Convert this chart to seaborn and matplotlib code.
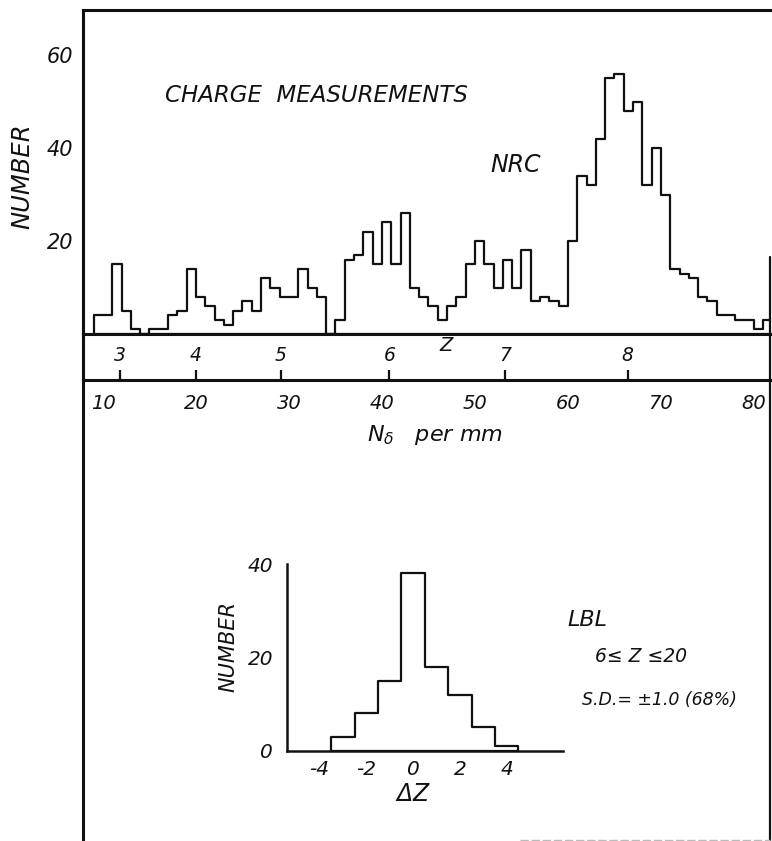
import numpy as np
import pandas as pd
import matplotlib
matplotlib.use("Agg")
import matplotlib.pyplot as plt
import seaborn as sns
from matplotlib.lines import Line2D

# ---------------- data ----------------
# NRC charge measurement histogram: counts per 1-unit bin of N_delta per mm
nd_bin_start = 9          # left edge of first bin
nd_bin_width = 1
nrc_counts = [4, 4, 15, 5, 1, 0, 1, 1, 4, 5,
              14, 8, 6, 3, 2, 5, 7, 5, 12, 10,
              8, 8, 14, 10, 8, 0, 3, 16, 17, 22,
              15, 24, 15, 26, 10, 8, 6, 3, 6, 8,
              15, 20, 15, 10, 16, 10, 18, 7, 8, 7,
              6, 20, 34, 32, 42, 55, 56, 48, 50, 32,
              40, 30, 14, 13, 12, 8, 7, 4, 4, 3,
              3, 1, 3]
nd_ticks = [10, 20, 30, 40, 50, 60, 70, 80]
count_ticks = [20, 40, 60]

# Z scale against N_delta per mm
z_labels = [3, 4, 5, 6, 7, 8]
z_positions = [11.8, 20.0, 29.1, 40.8, 53.2, 66.4]

# LBL inset: Delta Z distribution
dz_values = [-3, -2, -1, 0, 1, 2, 3, 4]
lbl_counts = [3, 8, 15, 38, 18, 12, 5, 1]
dz_ticks = [-4, -2, 0, 2, 4]
lbl_count_ticks = [0, 20, 40]

# ---------------- style ----------------
sns.set_theme(style="white")
plt.rcParams["font.family"] = ["DejaVu Sans"]
plt.rcParams["font.style"] = "italic"
plt.rcParams["mathtext.fontset"] = "dejavusans"
plt.rcParams["mathtext.default"] = "it"

W, H = 772, 841
fig = plt.figure(figsize=(W / 100, H / 100), dpi=100)
fig.patch.set_facecolor("white")


def fx(px):
    return px / W


def fy(py):
    return 1 - py / H


INK = "#111111"
SPINE_LW = 2.2
HIST_LW = 1.6

# ---------------- main histogram ----------------
nd_centers = [nd_bin_start + nd_bin_width * (i + 0.5) for i in range(len(nrc_counts))]
df_nrc = pd.DataFrame({"nd": nd_centers, "count": nrc_counts})

ax = fig.add_axes([fx(83), fy(334), fx(771) - fx(83), fy(10) - fy(334)])
sns.histplot(data=df_nrc, x="nd", weights="count", binwidth=nd_bin_width,
             binrange=(nd_bin_start, nd_bin_start + nd_bin_width * len(nrc_counts)),
             element="step", fill=True, color=INK, facecolor="none", edgecolor=INK,
             linewidth=HIST_LW, ax=ax)
ax.set_xlim(7.85, 81.83)
ax.set_ylim(0, 69.7)
ax.set_xlabel("")
ax.set_ylabel("")
ax.set_xticks([])
ax.set_yticks(count_ticks)
ax.set_yticklabels([str(v) for v in count_ticks], fontsize=15, style="italic")
ax.tick_params(axis="y", direction="out", length=6, width=1.8, pad=1, colors=INK)
for s in ["right", "bottom"]:
    ax.spines[s].set_visible(False)
for s in ["left", "top"]:
    ax.spines[s].set_linewidth(SPINE_LW)
    ax.spines[s].set_color(INK)
ax.patch.set_alpha(0)

# ---------------- Z strip / N_delta axis ----------------
sx = fig.add_axes([fx(83), fy(380), fx(771) - fx(83), fy(334) - fy(380)])
sx.set_xlim(7.85, 81.83)
sx.set_ylim(0, 1)
sx.set_yticks([])
sx.set_xticks(nd_ticks)
sx.set_xticklabels([str(v) for v in nd_ticks], fontsize=14, style="italic")
sx.tick_params(axis="x", direction="out", length=7, width=1.6, pad=3, colors=INK)
for s in ["top", "bottom", "left"]:
    sx.spines[s].set_linewidth(SPINE_LW)
    sx.spines[s].set_color(INK)
sx.spines["right"].set_visible(False)
sx.vlines(z_positions, 0, 0.22, color=INK, linewidth=1.6)
for zl, zp in zip(z_labels, z_positions):
    sx.text(zp, 0.54, str(zl), ha="center", va="center", fontsize=13.5, style="italic", color=INK)
sx.text(46.9, 0.74, "Z", ha="center", va="center", fontsize=14, style="italic", color=INK)
sx.patch.set_alpha(0)

fig.text(fx(435), fy(435), r"$N_{\delta}$   per mm", ha="center", va="center",
         fontsize=16, style="italic", color=INK)

# ---------------- text in main panel ----------------
fig.text(fx(22), fy(176), "NUMBER", rotation=90, ha="center", va="center",
         fontsize=17.5, style="italic", color=INK)
fig.text(fx(165), fy(95), "CHARGE  MEASUREMENTS", ha="left", va="center",
         fontsize=16.5, style="italic", color=INK)
fig.text(fx(490), fy(165), "NRC", ha="left", va="center",
         fontsize=17, style="italic", color=INK)

# ---------------- frame lines ----------------
fig.add_artist(Line2D([fx(83), fx(83)], [fy(10), 0], color=INK, linewidth=SPINE_LW))
fig.add_artist(Line2D([fx(770), fx(770)], [fy(257), 0], color=INK, linewidth=1.6))
fig.add_artist(Line2D([fx(520), fx(770)], [fy(839.5), fy(839.5)], color="#bbbbbb",
                      linewidth=1.0, linestyle=(0, (6, 2))))

# ---------------- LBL inset ----------------
df_lbl = pd.DataFrame({"dz": dz_values, "count": lbl_counts})
ix = fig.add_axes([fx(287), fy(750.7), fx(563) - fx(287), fy(564) - fy(750.7)])
sns.histplot(data=df_lbl, x="dz", weights="count", discrete=True,
             element="step", fill=True, color=INK, facecolor="none", edgecolor=INK,
             linewidth=HIST_LW, ax=ix)
ix.set_xlim(-5.39, 6.41)
ix.set_ylim(0, 40)
ix.set_xlabel("")
ix.set_ylabel("")
ix.set_xticks(dz_ticks)
ix.set_xticklabels([str(v) for v in dz_ticks], fontsize=14.5, style="italic")
ix.set_yticks(lbl_count_ticks)
ix.set_yticklabels([str(v) for v in lbl_count_ticks], fontsize=14.5, style="italic")
ix.tick_params(axis="x", direction="in", length=6, width=1.5, pad=7, colors=INK)
ix.tick_params(axis="y", direction="out", length=7, width=1.5, pad=3, colors=INK)
for s in ["top", "right"]:
    ix.spines[s].set_visible(False)
for s in ["left", "bottom"]:
    ix.spines[s].set_linewidth(1.8)
    ix.spines[s].set_color(INK)
ix.patch.set_alpha(0)

fig.text(fx(228), fy(647), "NUMBER", rotation=90, ha="center", va="center",
         fontsize=15, style="italic", color=INK)
fig.text(fx(413), fy(794), r"$\Delta Z$", ha="center", va="center",
         fontsize=17, color=INK)
fig.text(fx(567), fy(620), "LBL", ha="left", va="center",
         fontsize=16, style="italic", color=INK)
fig.text(fx(595), fy(657), "6≤ Z ≤20", ha="left", va="center",
         fontsize=13.5, style="italic", color=INK)
fig.text(fx(582), fy(700), "S.D.= ±1.0 (68%)", ha="left", va="center",
         fontsize=12.5, style="italic", color=INK)

fig.savefig("out.png", dpi=100, facecolor="white")
